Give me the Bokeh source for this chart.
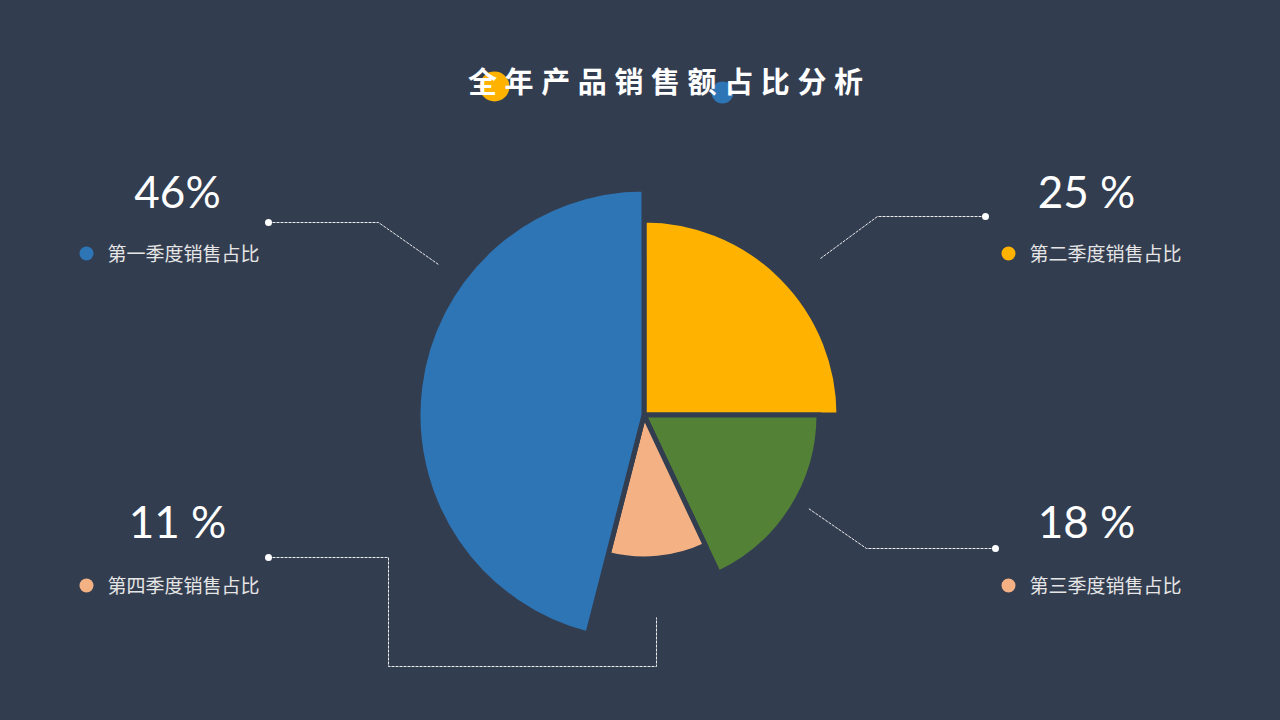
from bokeh.plotting import figure
from bokeh.models import Range1d
from bokeh.core.properties import value
from bokeh.embed import file_html
from bokeh.resources import INLINE
import math

# ---------------- data ----------------
quarters = ["第一季度", "第二季度", "第三季度", "第四季度"]
shares = [46, 25, 18, 11]
pct_labels = ["46%", "25 %", "18 %", "11 %"]
legend_labels = ["第一季度销售占比", "第二季度销售占比", "第三季度销售占比", "第四季度销售占比"]
title_text = "全年产品销售额占比分析"

# ---------------- style ----------------
BG = "#333d50"
slice_colors = ["#2e75b6", "#ffb300", "#538135", "#f4b183"]
legend_dot_colors = ["#2e75b6", "#ffb300", "#f4b183", "#f4b183"]
slice_radii = [226, 195, 175, 144]
clockwise_order = [1, 2, 3, 0]  # starting at 12 o'clock going clockwise
CX, CY = 643.5, 414.5

W, H = 1280, 720


def Y(y):
    return H - y


p = figure(width=W, height=H, x_range=Range1d(0, W), y_range=Range1d(0, H),
           output_backend="svg", toolbar_location=None, min_border=0,
           x_axis_type=None, y_axis_type=None)
p.background_fill_color = BG
p.border_fill_color = BG
p.outline_line_color = None
p.grid.visible = False

# ---------------- title ----------------
p.scatter(x=[494], y=[Y(86)], size=30, marker="circle", fill_color="#ffb300", line_color=None)
p.scatter(x=[722], y=[Y(92)], size=22, marker="circle", fill_color="#2e75b6", line_color=None)
tx0, tstep = 482, 36.6
p.text(x=[tx0 + i * tstep for i in range(len(title_text))], y=[Y(79)] * len(title_text),
       text=list(title_text), text_font=value("Noto Sans CJK SC"), text_font_style="bold",
       text_font_size="29px", text_color="white", text_align="center", text_baseline="middle")

# ---------------- pie ----------------
total = sum(shares)
start = 90.0
for idx in clockwise_order:
    end = start - shares[idx] / total * 360.0
    p.wedge(x=[CX], y=[Y(CY)], radius=slice_radii[idx],
            start_angle=math.radians(end), end_angle=math.radians(start),
            fill_color=slice_colors[idx], line_color=BG, line_width=5, line_join="miter")
    start = end

# ---------------- connectors ----------------
connectors = [
    [(268, 222), (378, 222), (438, 264)],
    [(985, 216), (877, 216), (820, 258)],
    [(995, 548), (866, 548), (808, 508)],
    [(268, 557), (388, 557), (388, 666), (656, 666), (656, 617)],
]
for pts in connectors:
    p.line(x=[a for a, b in pts], y=[Y(b) for a, b in pts], line_color="white",
           line_width=1, line_dash="3 1", line_alpha=0.9)
    p.scatter(x=[pts[0][0]], y=[Y(pts[0][1])], size=7, marker="circle",
              fill_color="white", line_color=None)

# ---------------- labels ----------------
pct_pos = [(177, 190), (1086, 190), (1086, 520), (177, 520)]
legend_pos = [(107, 252), (1029, 252), (1029, 584), (107, 584)]
dot_pos = [(86, 253), (1008, 253), (1008, 585), (86, 585)]

p.text(x=[a for a, b in pct_pos], y=[Y(b) for a, b in pct_pos], text=pct_labels,
       text_font=value("Lato"), text_font_size="44px", text_color="white",
       text_align="center", text_baseline="middle")
p.text(x=[a for a, b in legend_pos], y=[Y(b) for a, b in legend_pos], text=legend_labels,
       text_font=value("Noto Sans CJK SC"), text_font_size="19px", text_color="#e6e6e6",
       text_align="left", text_baseline="middle")
p.scatter(x=[a for a, b in dot_pos], y=[Y(b) for a, b in dot_pos], size=14, marker="circle",
          fill_color=legend_dot_colors, line_color=None)

html = file_html(p, INLINE, title="全年产品销售额占比分析")
html = html.replace("<body>", '<body style="background:%s">' % BG)
open("out.html", "w").write(html)
